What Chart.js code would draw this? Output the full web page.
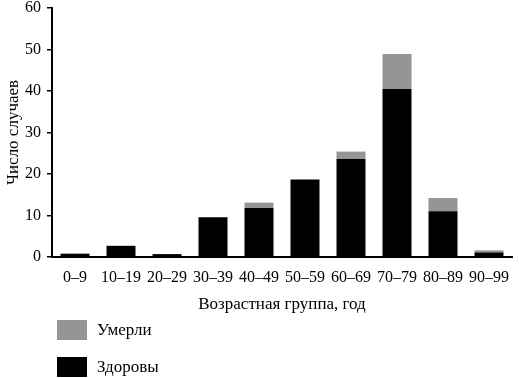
<!DOCTYPE html>
<html>
<head>
<meta charset="utf-8">
<script src="https://cdn.jsdelivr.net/npm/chart.js@4"></script>
<style>
  html, body { margin: 0; padding: 0; background: #fff; }
  #wrap { position: relative; width: 519px; height: 378px; }
  canvas { position: absolute; left: 0; top: 0; }
  .leg { position: absolute; left: 57px; font-family: "Liberation Serif", serif; font-size: 17px; color: #000; display: flex; align-items: center; }
  .leg .box { width: 30px; height: 20px; margin-right: 10px; }
</style>
</head>
<body>
<div id="wrap">
  <canvas id="c" width="519" height="378"></canvas>
  <div id="legend"></div>
</div>
<script>
const categories = ["0–9", "10–19", "20–29", "30–39", "40–49", "50–59", "60–69", "70–79", "80–89", "90–99"];
const healthy = [0.8, 2.7, 0.7, 9.6, 11.8, 18.7, 23.6, 40.5, 11.0, 1.1];
const died = [0, 0, 0, 0, 1.3, 0, 1.8, 8.4, 3.2, 0.5];
const seriesNames = ["Умерли", "Здоровы"];
const seriesColors = ["#959595", "#000000"];
const yTicks = [0, 10, 20, 30, 40, 50, 60];
const xTitle = "Возрастная группа, год";
const yTitle = "Число случаев";

const serif = "'Liberation Serif', serif";

const chart = new Chart(document.getElementById('c'), {
  type: 'bar',
  data: {
    labels: categories,
    datasets: [
      { label: seriesNames[1], data: healthy, backgroundColor: seriesColors[1], barPercentage: 0.63, categoryPercentage: 1, order: 1 },
      { label: seriesNames[0], data: died, backgroundColor: seriesColors[0], barPercentage: 0.63, categoryPercentage: 1, order: 2 }
    ]
  },
  options: {
    responsive: false,
    animation: false,
    layout: { padding: { left: 0, right: 7, top: 0, bottom: 63 } },
    plugins: { legend: { display: false }, tooltip: { enabled: false } },
    scales: {
      x: {
        stacked: true,
        grid: { display: false },
        border: { display: true, color: '#000', width: 2 },
        ticks: { color: '#000', font: { family: serif, size: 16 }, padding: 3, maxRotation: 0, autoSkip: false },
        title: { display: true, text: xTitle, color: '#000', font: { family: serif, size: 17 }, padding: 0 },
        afterFit: (s) => { s.height = 58; }
      },
      y: {
        stacked: true,
        min: 0, max: 60,
        afterBuildTicks: (s) => { s.ticks = yTicks.map(v => ({ value: v })); },
        grid: { display: true, drawOnChartArea: false, drawTicks: true, tickLength: 5, color: '#000', lineWidth: 1.5 },
        border: { display: true, color: '#000', width: 2 },
        ticks: { color: '#000', font: { family: serif, size: 16 }, padding: 6 },
        title: { display: true, text: yTitle, color: '#000', font: { family: serif, size: 17 }, padding: { top: 3, bottom: 0 } },
        afterFit: (s) => { s.width = 52; s.paddingTop = 8; }
      }
    }
  }
});

const leg = document.getElementById('legend');
const legendTops = [320, 357];
seriesNames.forEach((name, i) => {
  const d = document.createElement('div');
  d.className = 'leg';
  d.style.top = legendTops[i] + 'px';
  const b = document.createElement('div');
  b.className = 'box';
  b.style.background = seriesColors[i];
  const t = document.createElement('span');
  t.textContent = name;
  d.appendChild(b); d.appendChild(t);
  leg.appendChild(d);
});
</script>
</body>
</html>
